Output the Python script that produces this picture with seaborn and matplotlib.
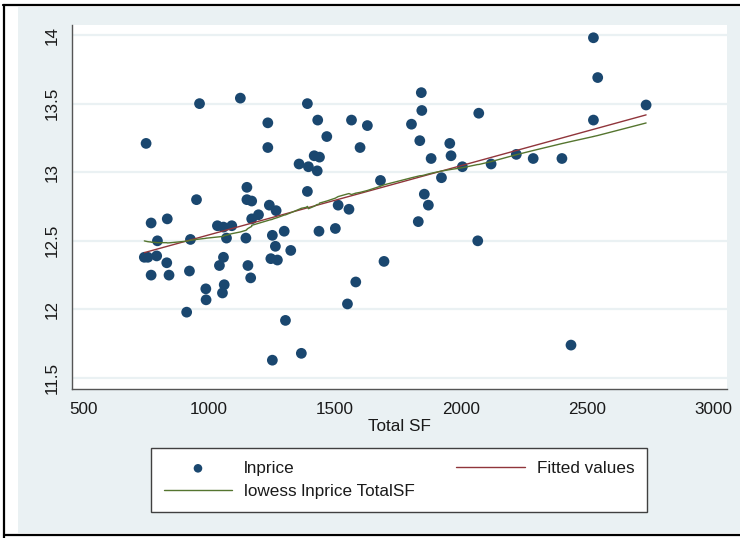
import numpy as np
import pandas as pd
import matplotlib
matplotlib.use("Agg")
import matplotlib.pyplot as plt
from matplotlib.lines import Line2D
from matplotlib.patches import Rectangle
import seaborn as sns

# House size (square feet) and log sale price
total_sf = [750, 962, 1124, 1390, 1233, 1431, 1565, 1628, 1467, 1233,
            1599, 1357, 1417, 1438, 1394, 1429, 1680, 950, 1150, 1150,
            1169, 1239, 1266, 1390, 1512, 1555, 1169, 1196, 770, 834,
            795, 926, 1033, 1057, 1090, 1069, 1146, 1251, 1298, 1436,
            1501, 1263, 1324, 743, 757, 792, 832, 1057, 1041, 922,
            1154, 1245, 1271, 770, 841, 1165, 987, 1060, 1053, 988,
            911, 1549, 1582, 1694, 1303, 1366, 1251, 2525, 2542, 2734,
            2525, 2070, 1842, 1844, 1803, 1836, 1955, 1960, 1881, 2005,
            2119, 2219, 2286, 2400, 1922, 1854, 1870, 1830, 2066, 2436]
lnprice = [13.21, 13.50, 13.54, 13.50, 13.36, 13.38, 13.38, 13.34, 13.26, 13.18,
           13.18, 13.06, 13.12, 13.11, 13.04, 13.01, 12.94, 12.80, 12.89, 12.80,
           12.79, 12.76, 12.72, 12.86, 12.76, 12.73, 12.66, 12.69, 12.63, 12.66,
           12.50, 12.51, 12.61, 12.60, 12.61, 12.52, 12.52, 12.54, 12.57, 12.57,
           12.59, 12.46, 12.43, 12.38, 12.38, 12.39, 12.34, 12.38, 12.32, 12.28,
           12.32, 12.37, 12.36, 12.25, 12.25, 12.23, 12.15, 12.18, 12.12, 12.07,
           11.98, 12.04, 12.20, 12.35, 11.92, 11.68, 11.63, 13.98, 13.69, 13.49,
           13.38, 13.43, 13.58, 13.45, 13.35, 13.23, 13.21, 13.12, 13.10, 13.04,
           13.06, 13.13, 13.10, 13.10, 12.96, 12.84, 12.76, 12.64, 12.50, 11.74]

x_ticks = [500, 1000, 1500, 2000, 2500, 3000]
y_ticks = [11.5, 12, 12.5, 13, 13.5, 14]
y_tick_labels = ["11.5", "12", "12.5", "13", "13.5", "14"]

label_points = "lnprice"
label_fit = "Fitted values"
label_lowess = "lowess lnprice TotalSF"
x_title = "Total SF"

BG = "#EAF1F3"
NAVY = "#1A476F"
MAROON = "#90353B"
FOREST = "#55752F"
AXIS = "#555555"
TEXT = "#1a1a1a"
FS = 12.3

sns.set_style("white")
plt.rcParams["font.family"] = ["Liberation Sans", "DejaVu Sans"]
plt.rcParams["font.size"] = FS

df = pd.DataFrame({"TotalSF": total_sf, "lnprice": lnprice})

# Ordinary least squares line
slope, intercept = np.polyfit(df["TotalSF"], df["lnprice"], 1)
xs_sorted = np.sort(df["TotalSF"].to_numpy(dtype=float))
fit_df = pd.DataFrame({"TotalSF": xs_sorted, "fit": intercept + slope * xs_sorted})


def running_lowess(x, y, bwidth=0.8):
    """Locally weighted linear smoother with tricube weights over a
    symmetric neighbourhood of the sorted observations."""
    order = np.argsort(x, kind="mergesort")
    xv = np.asarray(x, float)[order]
    yv = np.asarray(y, float)[order]
    n = len(xv)
    k = int(np.floor((n * bwidth - 0.5) / 2))
    out = np.empty(n)
    for i in range(n):
        lo, hi = max(0, i - k), min(n - 1, i + k)
        xx, yy = xv[lo:hi + 1], yv[lo:hi + 1]
        delta = 1.0001 * max(xv[hi] - xv[i], xv[i] - xv[lo])
        w = (1 - (np.abs(xx - xv[i]) / delta) ** 3) ** 3
        sw = w.sum()
        xm = (w * xx).sum() / sw
        ym = (w * yy).sum() / sw
        sxx = (w * (xx - xm) ** 2).sum()
        b = (w * (xx - xm) * (yy - ym)).sum() / sxx if sxx > 0 else 0.0
        out[i] = ym + b * (xv[i] - xm)
    return xv, out


lx, ly = running_lowess(df["TotalSF"], df["lnprice"])
low_df = pd.DataFrame({"TotalSF": lx, "smooth": ly})

W, H = 740, 538
fig = plt.figure(figsize=(W / 100, H / 100), dpi=100, facecolor="white")


def fx(px):
    return px / W


def fy(py):
    return 1 - py / H


# graph region and outer frame
fig.add_artist(Rectangle((fx(18), fy(533)), fx(740) - fx(18), fy(7) - fy(533),
                         transform=fig.transFigure, facecolor=BG,
                         edgecolor="none", zorder=-10))
for x0, y0, x1, y1 in [(3, 5, 740, 5), (4, 5, 4, 538), (4, 534.5, 740, 534.5)]:
    fig.add_artist(Line2D([fx(x0), fx(x1)], [fy(y0), fy(y1)],
                          transform=fig.transFigure, color="black", lw=1.6))

ax = fig.add_axes([fx(72), fy(389), fx(727) - fx(72), fy(25) - fy(389)])
ax.set_facecolor("white")

sns.scatterplot(data=df, x="TotalSF", y="lnprice", ax=ax, color=NAVY, s=60,
                edgecolor="none", linewidth=0, label=label_points, zorder=3)
sns.lineplot(data=fit_df, x="TotalSF", y="fit", ax=ax, color=MAROON, lw=1.0,
             estimator=None, sort=True, label=label_fit, zorder=4)
sns.lineplot(data=low_df, x="TotalSF", y="smooth", ax=ax, color=FOREST, lw=1.0,
             estimator=None, sort=True, label=label_lowess, zorder=5)

ax.set_xlim(456, 3055)
ax.set_ylim(11.42, 14.073)
ax.set_xticks(x_ticks)
ax.set_xticklabels([str(t) for t in x_ticks])
ax.set_yticks(y_ticks)
ax.set_yticklabels(y_tick_labels)

ax.yaxis.grid(True, color=BG, lw=1.6)
ax.xaxis.grid(False)
ax.set_axisbelow(True)

for side in ("top", "right"):
    ax.spines[side].set_visible(False)
for side in ("left", "bottom"):
    ax.spines[side].set_color(AXIS)
    ax.spines[side].set_linewidth(1.0)

ax.tick_params(axis="both", direction="out", length=5.5, width=1.0,
               color=AXIS, labelcolor=TEXT, labelsize=FS, pad=4)
ax.tick_params(axis="y", labelrotation=90, pad=3.5)
for lab in ax.get_yticklabels():
    lab.set_va("center")

ax.set_xlabel(x_title, fontsize=FS, color=TEXT, labelpad=1.5)
ax.set_ylabel("")

handles, labels = ax.get_legend_handles_labels()
hmap = dict(zip(labels, handles))
leg = ax.legend(handles=[hmap[label_points], hmap[label_lowess], hmap[label_fit]],
                labels=[label_points, label_lowess, label_fit],
                ncol=2, loc="upper left", mode="expand",
                bbox_to_anchor=(fx(151), fy(448), fx(647) - fx(151), 0),
                bbox_transform=fig.transFigure, borderaxespad=0,
                frameon=True, fancybox=False, framealpha=1, edgecolor="#404040",
                fontsize=FS, handlelength=4.0, handletextpad=0.7,
                borderpad=0.75, labelspacing=0.5, markerscale=0.8)
leg.get_frame().set_linewidth(1.0)
for t in leg.get_texts():
    t.set_color(TEXT)

fig.savefig("out.png", dpi=100, facecolor="white")
